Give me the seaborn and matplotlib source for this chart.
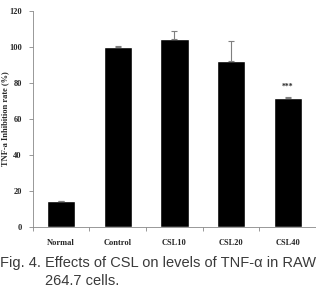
import matplotlib
matplotlib.use('Agg')
import matplotlib.pyplot as plt
import pandas as pd
import seaborn as sns
import numpy as np

groups = ['Normal', 'Control', 'CSL10', 'CSL20', 'CSL40']
rate = [14.2, 100.0, 104.4, 92.2, 71.5]
err = [0.3, 0.3, 4.5, 11.1, 0.9]

df = pd.DataFrame({'group': groups, 'rate': rate})

sns.set_style('white')
plt.rcParams['font.family'] = ['Liberation Serif', 'DejaVu Serif']

fig = plt.figure(figsize=(3.16, 2.88), dpi=100)
ax = fig.add_axes([0.104, 0.212, 0.896, 0.75])

sns.barplot(data=df, x='group', y='rate', color='black', width=0.5,
            saturation=1, errorbar=None, ax=ax)
ax.errorbar(groups, rate, yerr=[np.zeros(len(err)), err], fmt='none',
            ecolor='#7f7f7f', elinewidth=0.8, capsize=2.5, capthick=0.8)
ax.text(4, rate[4] + err[4] + 3, '***', ha='center', va='bottom',
        fontsize=5.5, fontweight='bold')

ax.set_ylim(0, 120)
ax.set_yticks(range(0, 121, 20))
ax.set_xlim(-0.5, 4.5)
ax.set_xticks(np.arange(-0.5, 4.6, 1), minor=True)
ax.tick_params(axis='x', which='minor', length=3, width=0.6, color='#888888', direction='out', bottom=True)
ax.tick_params(axis='x', which='major', length=0, pad=9)
ax.tick_params(axis='y', length=3, width=0.6, color='#888888', direction='out', left=True, pad=5)
for lab in ax.get_xticklabels() + ax.get_yticklabels():
    lab.set_fontsize(6)
    lab.set_fontweight('bold')

for s in ['top', 'right']:
    ax.spines[s].set_visible(False)
for s in ['left', 'bottom']:
    ax.spines[s].set_color('#888888')
    ax.spines[s].set_linewidth(0.6)

ax.set_xlabel(None)
ax.set_ylabel('TNF-a Inhibition rate (%)', fontsize=6, fontweight='bold')
ax.yaxis.set_label_coords(-0.082, 0.5)

cap_font = ['Liberation Sans', 'DejaVu Sans']
fig.text(0.0, 0.087, 'Fig. 4. Effects of CSL on levels of TNF-\u03b1 in RAW',
         fontsize=10.5, family=cap_font, color='#3a3a3a', va='center')
fig.text(0.142, 0.025, '264.7 cells.',
         fontsize=10.5, family=cap_font, color='#3a3a3a', va='center')

fig.savefig('out.png', dpi=100)
